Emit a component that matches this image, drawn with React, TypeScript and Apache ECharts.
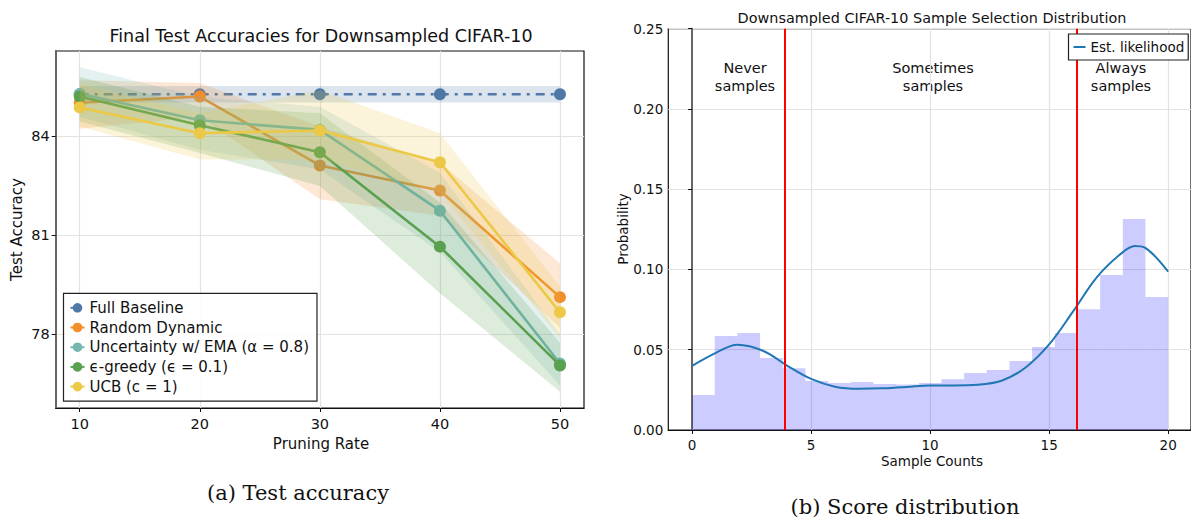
import { useEffect, useRef } from "react";
import * as echarts from "echarts";

// ---------- Left chart data ----------
const pruningRates = [10, 20, 30, 40, 50];
const methodNames = [
  "Full Baseline",
  "Random Dynamic",
  "Uncertainty w/ EMA (α = 0.8)",
  "ϵ-greedy (ϵ = 0.1)",
  "UCB (c = 1)",
];
const methodColors = ["#4e79a7", "#f28e2b", "#76b7b2", "#59a14f", "#edc948"];

const baselineMean = [85.28, 85.28, 85.28, 85.28, 85.28];
const baselineLow = [85.03, 85.03, 85.03, 85.03, 85.03];
const baselineHigh = [85.53, 85.53, 85.53, 85.53, 85.53];

const randomMean = [85.02, 85.21, 83.12, 82.36, 79.13];
const randomLow = [84.23, 84.6, 82.1, 81.6, 78.2];
const randomHigh = [85.7, 85.62, 84.3, 83.2, 80.16];

const uncertMean = [85.29, 84.49, 84.2, 81.75, 77.12];
const uncertLow = [84.6, 83.6, 83.0, 80.5, 76.45];
const uncertHigh = [86.1, 85.2, 84.9, 82.9, 78.0];

const greedyMean = [85.21, 84.34, 83.52, 80.66, 77.06];
const greedyLow = [84.45, 83.5, 82.5, 79.25, 76.26];
const greedyHigh = [85.8, 84.9, 84.7, 82.0, 77.75];

const ucbMean = [84.88, 84.1, 84.18, 83.22, 78.67];
const ucbLow = [84.3, 83.3, 83.3, 82.3, 77.9];
const ucbHigh = [85.6, 84.7, 85.4, 84.1, 79.45];

const accTicks = [78, 81, 84];

// ---------- Right chart data ----------
const sampleCounts = [0, 1, 2, 3, 4, 5, 6, 7, 8, 9, 10, 11, 12, 13, 14, 15, 16, 17, 18, 19, 20];
const selectionProb = [
  0.0218, 0.0585, 0.0604, 0.0448, 0.0384, 0.0305, 0.0293, 0.0299, 0.0286, 0.0284, 0.0293,
  0.0316, 0.0355, 0.0374, 0.043, 0.0517, 0.0604, 0.0753, 0.0965, 0.1314, 0.0828,
];
const kdeX = [0, 1, 1.9, 3, 4, 5, 6, 7, 8, 9, 10, 11, 12, 13, 14, 15, 16, 17, 18, 18.6, 19, 20];
const kdeY = [
  0.04, 0.0481, 0.0531, 0.0492, 0.04, 0.0318, 0.027, 0.0257, 0.026, 0.0268, 0.0278, 0.0278,
  0.0282, 0.0307, 0.0388, 0.0533, 0.0737, 0.0951, 0.1096, 0.1146, 0.1137, 0.0986,
];
const thresholds = [3.91, 16.18];
const countTicks = [0, 5, 10, 15, 20];

const SANS = "DejaVu Sans";

function rgba(hex: string, a: number) {
  const n = parseInt(hex.slice(1), 16);
  return `rgba(${(n >> 16) & 255},${(n >> 8) & 255},${n & 255},${a})`;
}

function lineSeries(name: string, color: string, mean: number[], dashed: boolean, z: number) {
  return {
    type: "line",
    name,
    xAxisIndex: 0,
    yAxisIndex: 0,
    z,
    data: pruningRates.map((x, i) => [x, mean[i]]),
    symbol: "circle",
    symbolSize: 12,
    itemStyle: { color },
    lineStyle: { color, width: 2.6, type: dashed ? [9, 6, 3, 6] : "solid" },
    silent: true,
  };
}

function bandSeries(name: string, color: string, low: number[], high: number[], z: number) {
  return {
    type: "custom",
    name: name + " band",
    xAxisIndex: 0,
    yAxisIndex: 0,
    z,
    data: pruningRates.map((x, i) => [x, low[i], high[i]]),
    encode: { x: 0, y: [1, 2] },
    silent: true,
    renderItem: (params: any, api: any) => {
      if (params.dataIndex !== 0) return null;
      const top = pruningRates.map((x, i) => api.coord([x, high[i]]));
      const bot = pruningRates.map((x, i) => api.coord([x, low[i]])).reverse();
      return {
        type: "polygon",
        shape: { points: top.concat(bot) },
        style: { fill: rgba(color, 0.2) },
      };
    },
  };
}

const methods = [
  { mean: baselineMean, low: baselineLow, high: baselineHigh },
  { mean: randomMean, low: randomLow, high: randomHigh },
  { mean: uncertMean, low: uncertLow, high: uncertHigh },
  { mean: greedyMean, low: greedyLow, high: greedyHigh },
  { mean: ucbMean, low: ucbLow, high: ucbHigh },
];

export default function App() {
  const ref = useRef<HTMLDivElement>(null);

  useEffect(() => {
    if (!ref.current) return;
    const chart = echarts.init(ref.current, undefined, { renderer: "svg" });

    const binW = 20 / 21;
    const leftSeries: any[] = [];
    methods.forEach((m, i) => {
      leftSeries.push(lineSeries(methodNames[i], methodColors[i], m.mean, i === 0, 2 + 2 * i));
      leftSeries.push(bandSeries(methodNames[i], methodColors[i], m.low, m.high, 3 + 2 * i));
    });

    const axisLabelBase = { fontFamily: SANS, color: "#111" };

    const option: any = {
      animation: false,
      backgroundColor: "#fff",
      grid: [
        {
          left: 55.7,
          top: 51,
          width: 528.3,
          height: 357,
          show: true,
          borderColor: "#111",
          borderWidth: 1.2,
          containLabel: false,
        },
        {
          left: 668.3,
          top: 28.7,
          width: 525,
          height: 401.3,
          show: true,
          borderColor: "#111",
          borderWidth: 1.2,
          containLabel: false,
        },
      ],
      xAxis: [
        {
          type: "value",
          gridIndex: 0,
          min: 8,
          max: 52,
          axisLine: { show: true, lineStyle: { color: "#111", width: 1.2 } },
          axisTick: { show: true, length: 4, customValues: pruningRates, lineStyle: { color: "#111" } },
          axisLabel: { ...axisLabelBase, fontSize: 14.5, margin: 8, customValues: pruningRates },
          splitLine: { show: true, lineStyle: { color: "#e3e3e3", width: 1.2 } },
        },
        {
          type: "value",
          gridIndex: 1,
          min: -1,
          max: 20.96,
          axisLine: { show: true, lineStyle: { color: "#111", width: 1.2 } },
          axisTick: { show: true, length: 4, customValues: countTicks, lineStyle: { color: "#111" } },
          axisLabel: { ...axisLabelBase, fontSize: 13.5, margin: 8, customValues: countTicks },
          splitLine: { show: true, lineStyle: { color: "#e3e3e3", width: 1.2 } },
        },
      ],
      yAxis: [
        {
          type: "value",
          gridIndex: 0,
          min: 75.77,
          max: 86.59,
          axisLine: { show: true, lineStyle: { color: "#666", width: 2 } },
          axisTick: { show: true, length: 4, customValues: accTicks, lineStyle: { color: "#111" } },
          axisLabel: { ...axisLabelBase, fontSize: 14.5, margin: 6, customValues: accTicks },
          splitLine: { show: true, lineStyle: { color: "#e3e3e3", width: 1.2 } },
        },
        {
          type: "value",
          gridIndex: 1,
          min: 0,
          max: 0.25,
          interval: 0.05,
          axisLine: { show: true, lineStyle: { color: "#666", width: 2 } },
          axisTick: { show: true, length: 4, lineStyle: { color: "#111" } },
          axisLabel: {
            ...axisLabelBase,
            fontSize: 13.5,
            margin: 5,
            formatter: (v: number) => v.toFixed(2),
          },
          splitLine: { show: true, lineStyle: { color: "#e3e3e3", width: 1.2 } },
        },
      ],
      legend: [
        {
          data: methodNames,
          orient: "vertical",
          left: 63.5,
          top: 293.3,
          z: 20,
          padding: [7, 8, 7, 6],
          itemGap: 4.7,
          itemWidth: 14,
          itemHeight: 12,
          selectedMode: false,
          backgroundColor: "rgba(255,255,255,0.85)",
          borderColor: "#222",
          borderWidth: 1.2,
          borderRadius: 0,
          textStyle: { fontFamily: SANS, fontSize: 15, color: "#111", lineHeight: 15 },
        },
        {
          data: [{ name: "Est. likelihood", icon: "rect" }],
          left: 1068.5,
          top: 34,
          z: 20,
          padding: [6, 4, 6, 5],
          itemWidth: 12,
          itemHeight: 2,
          itemGap: 3,
          selectedMode: false,
          backgroundColor: "#fff",
          borderColor: "#222",
          borderWidth: 1.2,
          borderRadius: 0,
          textStyle: { fontFamily: SANS, fontSize: 13.5, color: "#111", lineHeight: 14 },
        },
      ],
      series: [
        ...leftSeries,
        {
          type: "custom",
          name: "Histogram",
          xAxisIndex: 1,
          yAxisIndex: 1,
          data: sampleCounts.map((c, i) => [c, selectionProb[i]]),
          encode: { x: 0, y: 1 },
          silent: true,
          renderItem: (_params: any, api: any) => {
            const k = api.value(0);
            const v = api.value(1);
            const p0 = api.coord([k * binW, v]);
            const p1 = api.coord([(k + 1) * binW, 0]);
            return {
              type: "rect",
              shape: { x: p0[0], y: p0[1], width: p1[0] - p0[0], height: p1[1] - p0[1] },
              style: { fill: "rgba(0,0,255,0.2)" },
            };
          },
        },
        {
          type: "line",
          name: "Est. likelihood",
          xAxisIndex: 1,
          yAxisIndex: 1,
          data: kdeX.map((x, i) => [x, kdeY[i]]),
          symbol: "none",
          smooth: 0.35,
          silent: true,
          itemStyle: { color: "#1f77b4" },
          lineStyle: { color: "#1f77b4", width: 2 },
          markLine: {
            silent: true,
            symbol: ["none", "none"],
            label: { show: false },
            lineStyle: { color: "#ff0000", width: 2, type: "solid" },
            data: thresholds.map((t) => ({ xAxis: t })),
          },
        },
      ],
      graphic: [
        {
          type: "text",
          x: 321,
          y: 36,
          style: {
            text: "Final Test Accuracies for Downsampled CIFAR-10",
            font: `17.5px "${SANS}"`,
            fill: "#111",
            align: "center",
            verticalAlign: "middle",
          },
        },
        {
          type: "text",
          x: 321,
          y: 444,
          style: { text: "Pruning Rate", font: `15px "${SANS}"`, fill: "#111", align: "center", verticalAlign: "middle" },
        },
        {
          type: "text",
          x: 17,
          y: 229.5,
          rotation: Math.PI / 2,
          style: { text: "Test Accuracy", font: `15px "${SANS}"`, fill: "#111", align: "center", verticalAlign: "middle" },
        },
        {
          type: "text",
          x: 932,
          y: 18,
          style: {
            text: "Downsampled CIFAR-10 Sample Selection Distribution",
            font: `14.4px "${SANS}"`,
            fill: "#111",
            align: "center",
            verticalAlign: "middle",
          },
        },
        {
          type: "text",
          x: 932,
          y: 461,
          style: { text: "Sample Counts", font: `13.5px "${SANS}"`, fill: "#111", align: "center", verticalAlign: "middle" },
        },
        {
          type: "text",
          x: 622.6,
          y: 229,
          rotation: Math.PI / 2,
          style: { text: "Probability", font: `13.5px "${SANS}"`, fill: "#111", align: "center", verticalAlign: "middle" },
        },
        {
          type: "text",
          x: 745,
          y: 77,
          style: { text: "Never\nsamples", font: `14.5px "${SANS}"`, lineHeight: 18, fill: "#111", align: "center", verticalAlign: "middle" },
        },
        {
          type: "text",
          x: 933,
          y: 77,
          style: { text: "Sometimes\nsamples", font: `14.5px "${SANS}"`, lineHeight: 18, fill: "#111", align: "center", verticalAlign: "middle" },
        },
        {
          type: "text",
          x: 1121,
          y: 77,
          style: { text: "Always\nsamples", font: `14.5px "${SANS}"`, lineHeight: 18, fill: "#111", align: "center", verticalAlign: "middle" },
        },
        {
          type: "text",
          x: 298,
          y: 493,
          style: { text: "(a) Test accuracy", font: `21px "DejaVu Serif"`, fill: "#111", align: "center", verticalAlign: "middle" },
        },
        {
          type: "text",
          x: 905,
          y: 507,
          style: { text: "(b) Score distribution", font: `21px "DejaVu Serif"`, fill: "#111", align: "center", verticalAlign: "middle" },
        },
      ],
    };

    chart.setOption(option);
    return () => chart.dispose();
  }, []);

  return (
    <div
      ref={ref}
      style={{ position: "fixed", left: 0, top: 0, width: 1191, height: 519, background: "#fff" }}
    />
  );
}
